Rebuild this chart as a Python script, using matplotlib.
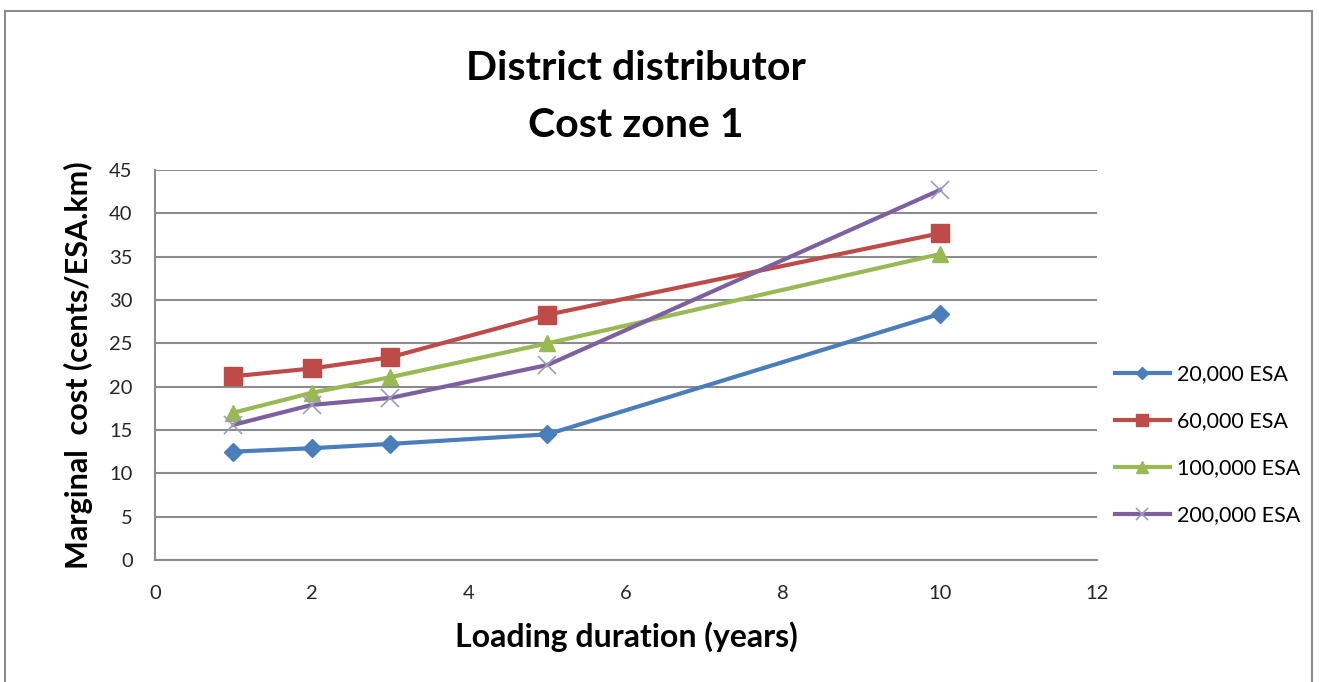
import matplotlib
matplotlib.use("Agg")
import matplotlib.pyplot as plt
from matplotlib.patches import Rectangle

# loading duration (years) and marginal cost (cents/ESA.km) per traffic level
years = [1, 2, 3, 5, 10]
esa_20k = [12.5, 12.9, 13.4, 14.5, 28.4]
esa_60k = [21.2, 22.1, 23.4, 28.3, 37.7]
esa_100k = [17.0, 19.3, 21.1, 25.0, 35.3]
esa_200k = [15.6, 17.9, 18.7, 22.5, 42.7]
series_names = ["20,000 ESA", "60,000 ESA", "100,000 ESA", "200,000 ESA"]
x_ticks = [0, 2, 4, 6, 8, 10, 12]
y_ticks = [0, 5, 10, 15, 20, 25, 30, 35, 40, 45]

plt.rcParams['font.family'] = ['Lato', 'DejaVu Sans']

fig = plt.figure(figsize=(13.19, 6.82), dpi=100)
ax = fig.add_axes([0.1175, 0.1789, 0.7142, 0.5718])

# outer chart frame
fig.patches.append(Rectangle((5 / 1319, -0.05), 1312 / 1319 - 5 / 1319, 1 - 11 / 682 + 0.05,
                             transform=fig.transFigure, fill=False,
                             ec='#8c8c8c', lw=1.5))

styles = [
    dict(color='#4a7ebb', marker='D', ms=9, mec='#4a7ebb'),
    dict(color='#be4b48', marker='s', ms=13, mec='#be4b48'),
    dict(color='#98b954', marker='^', ms=12, mec='#98b954'),
    dict(color='#7d60a0', marker='x', ms=13, mec='#9c9cbc', mew=1.2),
]
for vals, name, st in zip([esa_20k, esa_60k, esa_100k, esa_200k], series_names, styles):
    ax.plot(years, vals, lw=3, label=name, **st)

ax.set_xlim(0, 12)
ax.set_ylim(0, 45)
ax.set_xticks(x_ticks)
ax.set_yticks(y_ticks)
ax.grid(axis='y', color='#8c8c8c', lw=1.5)
ax.set_axisbelow(True)
for side in ['top', 'right']:
    ax.spines[side].set_visible(False)
for side in ['left', 'bottom']:
    ax.spines[side].set_color('#8c8c8c')
    ax.spines[side].set_linewidth(1.5)
ax.tick_params(length=0, labelsize=14.5, labelcolor='#262626')
ax.tick_params(axis='x', pad=18)
ax.tick_params(axis='y', pad=16)

ax.set_xlabel("Loading duration (years)", fontsize=23, fontweight='bold', labelpad=14)
ax.set_ylabel("Marginal  cost (cents/ESA.km)", fontsize=22, fontweight='bold', labelpad=12)

fig.text(0.482, 0.90, "District distributor", ha='center', va='center',
         fontsize=29.5, fontweight='bold')
fig.text(0.482, 0.816, "Cost zone 1", ha='center', va='center',
         fontsize=29.5, fontweight='bold')

ax.legend(loc='center left', bbox_to_anchor=(0.998, 0.295), frameon=False,
          fontsize=15.5, handlelength=2.6, labelspacing=1.25, handletextpad=0.3,
          markerscale=0.7)

fig.savefig("out.png", dpi=100)
